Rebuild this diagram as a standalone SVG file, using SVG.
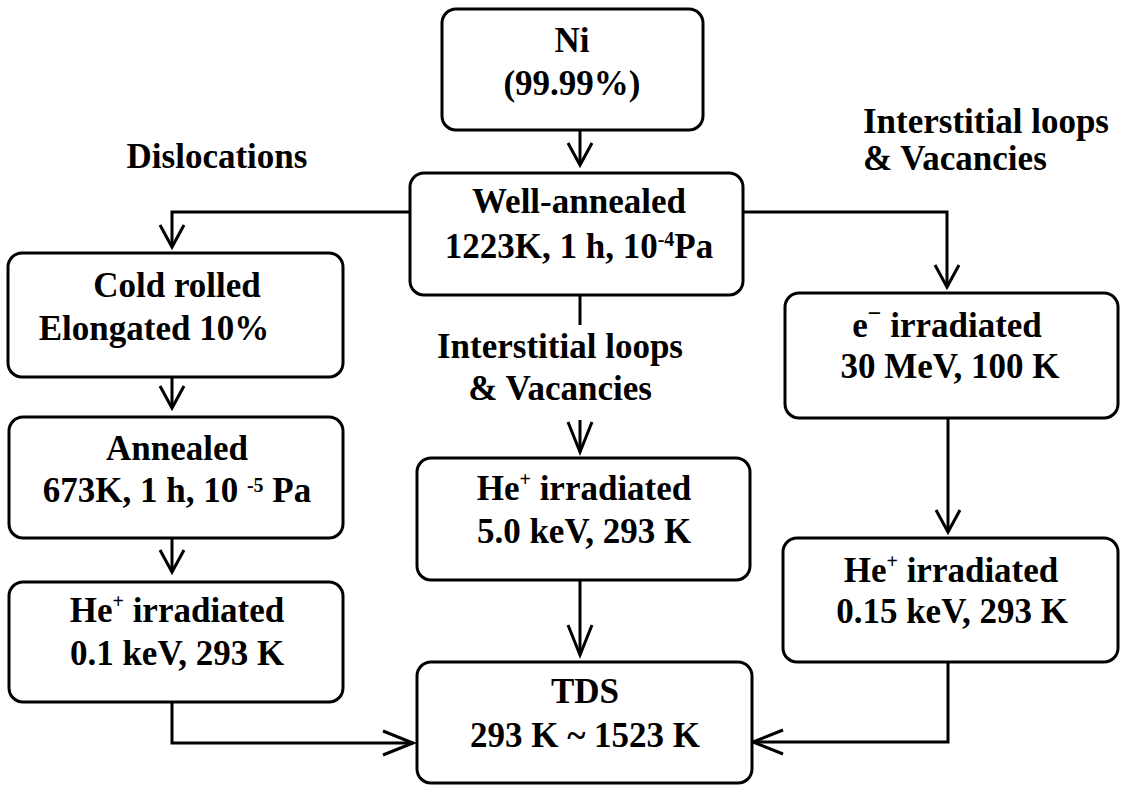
<svg xmlns="http://www.w3.org/2000/svg" width="1123" height="785" viewBox="0 0 1123 785">
<style>
.bg{fill:#fff}
.box{fill:#fff;stroke:#000;stroke-width:3}
.ln{fill:none;stroke:#000;stroke-width:3}
.t{font-family:"Liberation Serif","Times New Roman",serif;font-weight:bold;font-size:35px;fill:#000}
.c{text-anchor:middle}
.sup{font-size:20px}
</style>
<defs>
<marker id="as" markerUnits="userSpaceOnUse" markerWidth="40" markerHeight="40" refX="0" refY="0" orient="auto" overflow="visible">
<path d="M-22,-12 L0,0 L-22,12" fill="none" stroke="#000" stroke-width="3"/>
</marker>
<marker id="al" markerUnits="userSpaceOnUse" markerWidth="40" markerHeight="40" refX="0" refY="0" orient="auto" overflow="visible">
<path d="M-30,-12 L0,0 L-30,12" fill="none" stroke="#000" stroke-width="3"/>
</marker>
</defs>
<rect class="bg" x="0" y="0" width="1123" height="785"/>
<g id="connectors">
<path class="ln" d="M580,130 V165" marker-end="url(#as)"/>
<path class="ln" d="M410,212 H172 V247" marker-end="url(#as)"/>
<path class="ln" d="M172,377 V408" marker-end="url(#as)"/>
<path class="ln" d="M172,538 V572" marker-end="url(#as)"/>
<path class="ln" d="M172,702 V743 H413" marker-end="url(#al)"/>
<path class="ln" d="M743,212 H947 V287" marker-end="url(#as)"/>
<path class="ln" d="M948,418 V532" marker-end="url(#as)"/>
<path class="ln" d="M948,662 V742 H753" marker-end="url(#al)"/>
<path class="ln" d="M580,295 V325"/>
<path class="ln" d="M580,420 V452" marker-end="url(#al)"/>
<path class="ln" d="M580,580 V655" marker-end="url(#al)"/>
</g>
<g id="label-dislocations"><text class="t c" x="217" y="168">Dislocations</text></g>
<g id="label-right">
<text class="t" x="863" y="133">Interstitial loops</text>
<text class="t" x="863" y="170">&amp; Vacancies</text>
</g>
<g id="label-mid">
<text class="t c" x="560" y="358">Interstitial loops</text>
<text class="t c" x="560" y="400">&amp; Vacancies</text>
</g>
<g id="node-ni">
<rect class="box" x="442" y="9" width="261" height="121" rx="14"/>
<text class="t c" x="572" y="52">Ni</text>
<text class="t c" x="572" y="95">(99.99%)</text>
</g>
<g id="node-well-annealed">
<rect class="box" x="410" y="173" width="333" height="122" rx="14"/>
<text class="t c" x="579" y="213">Well-annealed</text>
<text class="t c" x="579" y="258">1223K, 1 h, 10<tspan class="sup" dy="-12">-4</tspan><tspan dy="12">Pa</tspan></text>
</g>
<g id="node-cold-rolled">
<rect class="box" x="8" y="253" width="335" height="124" rx="14"/>
<text class="t c" x="177" y="297">Cold rolled</text>
<text class="t c" x="154" y="340">Elongated 10%</text>
</g>
<g id="node-annealed">
<rect class="box" x="9" y="417" width="334" height="121" rx="14"/>
<text class="t c" x="177" y="460">Annealed</text>
<text class="t c" x="177" y="502">673K, 1 h, 10 <tspan class="sup" dy="-10">-5</tspan><tspan dy="10"> Pa</tspan></text>
</g>
<g id="node-he-left">
<rect class="box" x="9" y="582" width="334" height="120" rx="14"/>
<text class="t c" x="177" y="622">He<tspan class="sup" dy="-14">+</tspan><tspan dy="14"> irradiated</tspan></text>
<text class="t c" x="177" y="665">0.1 keV, 293 K</text>
</g>
<g id="node-he-mid">
<rect class="box" x="417" y="458" width="333" height="122" rx="14"/>
<text class="t c" x="584" y="500">He<tspan class="sup" dy="-14">+</tspan><tspan dy="14"> irradiated</tspan></text>
<text class="t c" x="584" y="543">5.0 keV, 293 K</text>
</g>
<g id="node-e-irradiated">
<rect class="box" x="785" y="293" width="333" height="125" rx="14"/>
<text class="t c" x="947" y="337">e<tspan style="font-size:24px" dy="-16">−</tspan><tspan dy="16"> irradiated</tspan></text>
<text class="t c" x="950" y="378">30 MeV, 100 K</text>
</g>
<g id="node-he-right">
<rect class="box" x="783" y="538" width="335" height="124" rx="14"/>
<text class="t c" x="951" y="582">He<tspan class="sup" dy="-14">+</tspan><tspan dy="14"> irradiated</tspan></text>
<text class="t c" x="952" y="623">0.15 keV, 293 K</text>
</g>
<g id="node-tds">
<rect class="box" x="417" y="662" width="335" height="121" rx="14"/>
<text class="t c" x="585" y="703">TDS</text>
<text class="t c" x="585" y="747">293 K ~ 1523 K</text>
</g>
</svg>
